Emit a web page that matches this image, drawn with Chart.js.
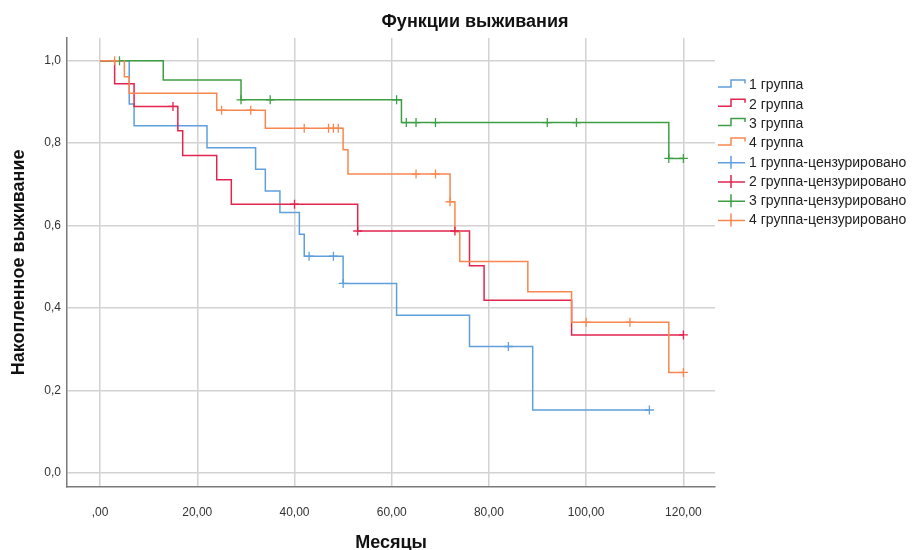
<!DOCTYPE html>
<html>
<head>
<meta charset="utf-8">
<title>Функции выживания</title>
<script src="https://cdn.jsdelivr.net/npm/chart.js@4.4.0/dist/chart.umd.min.js"></script>
<style>
  html, body { margin: 0; padding: 0; background: #fff; }
  canvas { display: block; }
</style>
</head>
<body>
<canvas id="km" width="915" height="550"></canvas>
<script>
// Kaplan-Meier curves (months, cumulative survival)
const g1Times = [0, 6, 7, 22, 32, 34, 37, 41, 42, 50, 61, 76, 89, 113];
const g1Surv  = [1, 0.895, 0.842, 0.789, 0.737, 0.684, 0.632, 0.579, 0.526, 0.460, 0.383, 0.307, 0.153, 0.153];
const g2Times = [0, 3, 7, 16, 17, 24, 27, 53, 76, 79, 97, 120];
const g2Surv  = [1, 0.944, 0.889, 0.830, 0.770, 0.711, 0.652, 0.587, 0.503, 0.419, 0.335, 0.335];
const g3Times = [0, 13, 29, 62, 117, 120];
const g3Surv  = [1, 0.953, 0.905, 0.850, 0.763, 0.763];
const g4Times = [0, 5, 6, 24, 34, 50, 51, 72, 73, 74, 88, 97, 117, 120];
const g4Surv  = [1, 0.961, 0.921, 0.880, 0.836, 0.784, 0.725, 0.658, 0.585, 0.513, 0.440, 0.366, 0.244, 0.244];

// censored observations
const g1CensTimes = [43, 48, 50, 84, 113];
const g1CensSurv  = [0.526, 0.526, 0.460, 0.307, 0.153];
const g2CensTimes = [15, 40, 53, 73, 120];
const g2CensSurv  = [0.889, 0.652, 0.587, 0.587, 0.335];
const g3CensTimes = [4, 29, 35, 61, 63, 65, 69, 92, 98, 117, 120];
const g3CensSurv  = [1, 0.905, 0.905, 0.905, 0.850, 0.850, 0.850, 0.850, 0.850, 0.763, 0.763];
const g4CensTimes = [3, 25, 31, 42, 47, 48, 49, 65, 69, 72, 100, 109, 120];
const g4CensSurv  = [1, 0.880, 0.880, 0.836, 0.836, 0.836, 0.836, 0.725, 0.725, 0.658, 0.366, 0.366, 0.244];

const groupLabels = ['1 группа', '2 группа', '3 группа', '4 группа'];
const censSuffix = '-цензурировано';

const xTickValues = [0, 20, 40, 60, 80, 100, 120];
const xTickLabels = [',00', '20,00', '40,00', '60,00', '80,00', '100,00', '120,00'];
const yTickValues = [0, 0.2, 0.4, 0.6, 0.8, 1.0];
const yTickLabels = ['0,0', '0,2', '0,4', '0,6', '0,8', '1,0'];

const chartTitle = 'Функции выживания';
const xTitle = 'Месяцы';
const yTitle = 'Накопленное выживание';

const colors = ['#5f9fdc', '#e2244f', '#3d9e44', '#f8874f'];
const FONT = 'Arial, "Liberation Sans", sans-serif';

function toPoints(xs, ys) {
  return xs.map((x, i) => ({ x: x, y: ys[i] }));
}

const curves = [
  [g1Times, g1Surv], [g2Times, g2Surv], [g3Times, g3Surv], [g4Times, g4Surv]
];
const censored = [
  [g1CensTimes, g1CensSurv], [g2CensTimes, g2CensSurv],
  [g3CensTimes, g3CensSurv], [g4CensTimes, g4CensSurv]
];

const datasets = [];
curves.forEach((c, i) => {
  datasets.push({
    label: groupLabels[i],
    data: toPoints(c[0], c[1]),
    showLine: true,
    stepped: 'before',
    borderColor: colors[i],
    borderWidth: 1.5,
    pointRadius: 0,
    pointHoverRadius: 0,
    fill: false,
    order: 10 - i
  });
});
censored.forEach((c, i) => {
  datasets.push({
    label: groupLabels[i] + censSuffix,
    data: toPoints(c[0], c[1]),
    showLine: false,
    pointStyle: 'cross',
    pointRadius: 4.5,
    pointBorderWidth: 1.3,
    borderColor: colors[i],
    backgroundColor: colors[i],
    order: 4 - i
  });
});

// SPSS-like legend: step icon for curves, cross for censored marks
const legendPlugin = {
  id: 'spssLegend',
  afterDraw(chart) {
    const ctx = chart.ctx;
    ctx.save();
    ctx.font = '14px ' + FONT;
    ctx.textBaseline = 'middle';
    ctx.textAlign = 'left';
    chart.data.datasets.forEach((ds, i) => {
      const y = 84.5 + i * 19.3;
      const x = 718;
      ctx.strokeStyle = ds.borderColor;
      ctx.lineWidth = 1.5;
      ctx.beginPath();
      if (ds.showLine) {
        ctx.moveTo(x, y + 2.5);
        ctx.lineTo(x + 13, y + 2.5);
        ctx.lineTo(x + 13, y - 4.5);
        ctx.lineTo(x + 27, y - 4.5);
        ctx.lineTo(x + 27, y - 1);
      } else {
        ctx.moveTo(x, y + 1);
        ctx.lineTo(x + 27, y + 1);
        ctx.moveTo(x + 13, y - 6);
        ctx.lineTo(x + 13, y + 7);
      }
      ctx.stroke();
      ctx.fillStyle = '#222';
      ctx.fillText(ds.label, 749, y + 1);
    });
    ctx.restore();
  }
};

const titlePlugin = {
  id: 'spssTitle',
  afterDraw(chart) {
    const ctx = chart.ctx;
    ctx.save();
    ctx.font = 'bold 18px ' + FONT;
    ctx.fillStyle = '#111';
    ctx.textAlign = 'center';
    ctx.textBaseline = 'middle';
    ctx.fillText(chartTitle, 475, 22);
    ctx.restore();
  }
};

const whiteBg = {
  id: 'whiteBg',
  beforeDraw(chart) {
    const ctx = chart.ctx;
    ctx.save();
    ctx.fillStyle = '#fff';
    ctx.fillRect(0, 0, chart.width, chart.height);
    ctx.restore();
  }
};

new Chart(document.getElementById('km'), {
  type: 'scatter',
  data: { datasets: datasets },
  plugins: [whiteBg, titlePlugin, legendPlugin],
  options: {
    responsive: false,
    animation: false,
    layout: { padding: { top: 38, right: 200, bottom: 0, left: 0 } },
    plugins: {
      legend: { display: false },
      title: { display: false },
      tooltip: { enabled: false }
    },
    scales: {
      x: {
        type: 'linear',
        min: -6.8,
        max: 126.5,
        afterBuildTicks: s => { s.ticks = xTickValues.map(v => ({ value: v })); },
        afterFit: s => { s.height = 63.3; },
        grid: { color: '#d2d2d2', lineWidth: 1.5, drawTicks: false },
        border: { color: '#7a7a7a', width: 1.5 },
        ticks: {
          padding: 19,
          color: '#333',
          autoSkip: false,
          maxRotation: 0,
          font: { size: 12, family: FONT },
          callback: v => xTickLabels[xTickValues.indexOf(v)]
        },
        title: {
          display: true,
          text: xTitle,
          color: '#111',
          padding: 0,
          font: { size: 18, weight: 'bold', family: FONT, lineHeight: 0.8 }
        }
      },
      y: {
        type: 'linear',
        min: -0.033,
        max: 1.055,
        afterBuildTicks: s => { s.ticks = yTickValues.map(v => ({ value: v })); },
        afterFit: s => { s.width = 67; },
        grid: { color: '#d2d2d2', lineWidth: 1.5, drawTicks: false },
        border: { color: '#7a7a7a', width: 1.5 },
        ticks: {
          padding: 6,
          color: '#333',
          font: { size: 12, family: FONT },
          callback: v => yTickLabels[yTickValues.indexOf(v)]
        },
        title: {
          display: true,
          text: yTitle,
          color: '#111',
          padding: { top: 8, bottom: 0 },
          font: { size: 18, weight: 'bold', family: FONT }
        }
      }
    }
  }
});
</script>
</body>
</html>
